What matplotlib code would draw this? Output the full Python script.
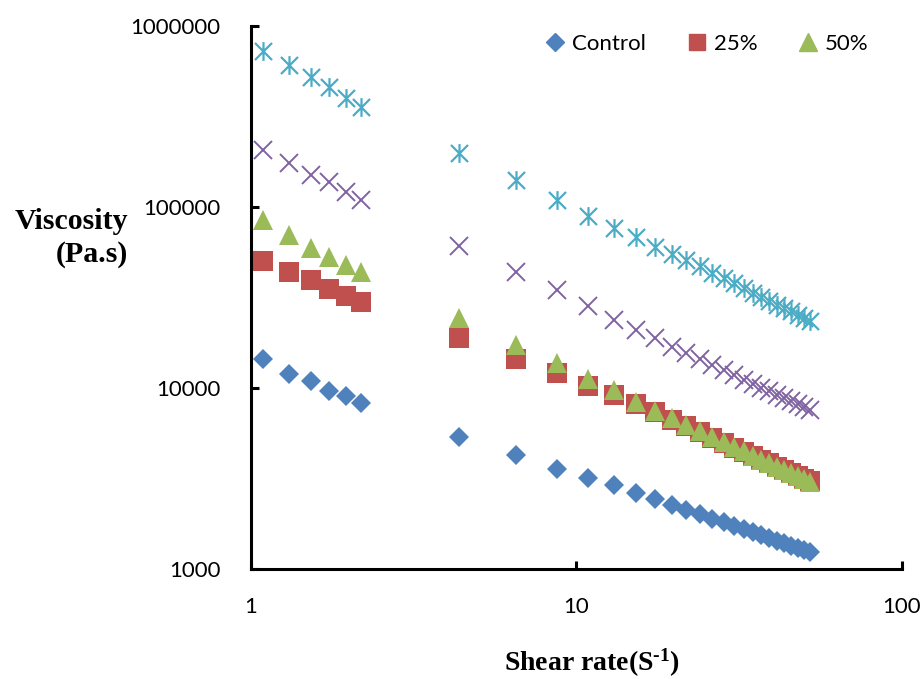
import matplotlib
matplotlib.use("Agg")
import matplotlib.pyplot as plt
from matplotlib.path import Path
from matplotlib.lines import Line2D

plt.rcParams.update({
    "font.family": "Lato",
    "mathtext.fontset": "custom",
    "mathtext.rm": "Liberation Serif:bold",
    "mathtext.it": "Liberation Serif:bold",
    "mathtext.bf": "Liberation Serif:bold",
})

# ── Data ───────────────────────────────────────────────────────
shear_lo = [1.09, 1.31, 1.53, 1.74, 1.96, 2.18]
shear_hi = [4.36, 6.54, 8.72, 10.9, 13.08, 15.26, 17.44, 19.62, 21.8, 23.98,
            26.16, 28.34, 30.52, 32.7, 34.88, 37.06, 39.24, 41.42, 43.6,
            45.78, 47.96, 50.14, 52.32]
shear = shear_lo + shear_hi

control = [14450, 11950, 10930, 9630, 9030, 8270,
           5360, 4265, 3570, 3180, 2910, 2630, 2440, 2270, 2127, 2006, 1901,
           1810, 1729, 1658, 1593, 1535, 1482, 1433, 1389, 1348, 1310, 1274, 1242]
pct25 = [50400, 43700, 39500, 35300, 32200, 29800,
         18900, 14450, 12100, 10260, 9140, 8160, 7330, 6670, 6130, 5680, 5300,
         4970, 4690, 4430, 4210, 4010, 3830, 3670, 3520, 3390, 3265, 3150, 3045]
pct50 = [84700, 70000, 59300, 52900, 47900, 43700,
         24400, 17300, 13750, 11220, 9750, 8370, 7500, 6800, 6240, 5765, 5365,
         5024, 4725, 4464, 4232, 4026, 3840, 3673, 3520, 3382, 3254, 3137, 3030]
series_x = [206000, 175000, 150000, 137000, 121000, 109000,
            61000, 43800, 34800, 28400, 23800, 20900, 18900, 16850, 15600, 14420,
            13410, 12550, 11800, 11140, 10560, 10040, 9580, 9160, 8780, 8430,
            8110, 7820, 7550]
series_star = [728000, 610000, 523000, 460000, 400000, 357000,
               198500, 141000, 109000, 89200, 76500, 68200, 60100, 55000, 50900,
               47200, 43400, 40400, 37850, 35600, 33650, 31900, 30350, 28920,
               27650, 26480, 25440, 24450, 23570]

legend_labels = ["Control", "25%", "50%"]

# Excel-style star: X plus vertical bar
star = Path([(-1, -1), (1, 1), (-1, 1), (1, -1), (0, -1.1), (0, 1.1)],
            [Path.MOVETO, Path.LINETO, Path.MOVETO, Path.LINETO,
             Path.MOVETO, Path.LINETO])

fig = plt.figure(figsize=(9.21, 6.79), dpi=100)
ax = fig.add_axes([0.2725, 0.162, 0.7065, 0.7997])

ax.plot(shear, series_star, ls="none", marker=star, ms=13.5, mew=1.6,
        mfc="none", mec="#4BACC6")
ax.plot(shear, series_x, ls="none", marker="x", ms=12.5, mew=1.4,
        color="#8064A2")
ax.plot(shear, control, ls="none", marker="D", ms=10, mew=0,
        color="#4F81BD")
ax.plot(shear, pct25, ls="none", marker="s", ms=14, mew=0,
        color="#C0504D")
ax.plot(shear, pct50, ls="none", marker="^", ms=14.5, mew=0,
        color="#9BBB59")

ax.set_xscale("log")
ax.set_yscale("log")
ax.set_xlim(1, 100)
ax.set_ylim(1000, 1000000)
ax.set_xticks([1, 10, 100])
ax.set_xticklabels(["1", "10", "100"])
ax.set_yticks([1000, 10000, 100000, 1000000])
ax.set_yticklabels(["1000", "10000", "100000", "1000000"])
ax.minorticks_off()

for sp in ["top", "right"]:
    ax.spines[sp].set_visible(False)
for sp in ["left", "bottom"]:
    ax.spines[sp].set_linewidth(2.2)
ax.tick_params(direction="in", length=6, width=2.2, labelsize=16)
ax.tick_params(axis="y", pad=22)
ax.tick_params(axis="x", pad=20)

handles = [
    Line2D([], [], ls="none", marker="D", ms=9, color="#4F81BD"),
    Line2D([], [], ls="none", marker="s", ms=12, color="#C0504D"),
    Line2D([], [], ls="none", marker="^", ms=13, color="#9BBB59"),
]
fig.legend(handles, legend_labels, ncol=3, frameon=False,
           loc="center right", bbox_to_anchor=(0.965, 0.935),
           fontsize=16, handlelength=0.8, handletextpad=0.35,
           columnspacing=1.9)

fig.text(128 / 921, 1 - 229 / 679, "Viscosity", ha="right", va="baseline",
         fontsize=21.5, family="Liberation Serif", fontweight="bold")
fig.text(128 / 921, 1 - 262 / 679, "(Pa.s)", ha="right", va="baseline",
         fontsize=21.5, family="Liberation Serif", fontweight="bold")
fig.text(592 / 921, 1 - 671 / 679, r"Shear rate(S$^{\text{-1}}$)",
         ha="center", va="baseline", fontsize=20,
         family="Liberation Serif", fontweight="bold")

fig.savefig("out.png", dpi=100)
